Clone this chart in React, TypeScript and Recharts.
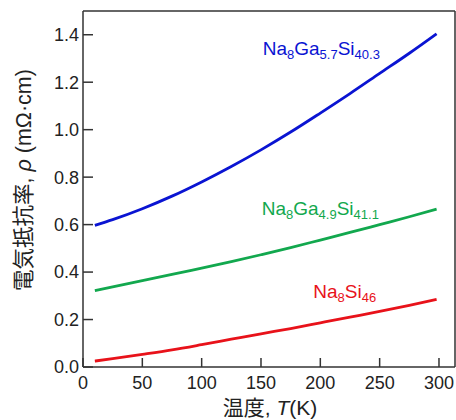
import { Line, LineChart, XAxis, YAxis } from "recharts"

const temps = [10, 25, 50, 75, 100, 125, 150, 175, 200, 225, 250, 275, 298]
const gaRich = [0.597, 0.621, 0.667, 0.72, 0.78, 0.845, 0.915, 0.99, 1.07, 1.152, 1.237, 1.322, 1.404]
const gaMid = [0.322, 0.338, 0.364, 0.39, 0.417, 0.444, 0.473, 0.503, 0.535, 0.567, 0.6, 0.633, 0.665]
const pure = [0.025, 0.035, 0.053, 0.072, 0.094, 0.117, 0.14, 0.162, 0.186, 0.21, 0.234, 0.26, 0.285]

const xTicks = [0, 50, 100, 150, 200, 250, 300]
const yTicks = [0, 0.2, 0.4, 0.6, 0.8, 1.0, 1.2, 1.4]

const data = temps.map((T, i) => ({
  T,
  gaRich: gaRich[i],
  gaMid: gaMid[i],
  pure: pure[i]
}))

const BLUE = "#0a14d2"
const GREEN = "#12a84e"
const RED = "#e8121a"
const AXIS = "#333"
const FONT = "'Liberation Sans', Arial, 'Noto Sans CJK JP', sans-serif"
const CJK = "'Liberation Sans', 'Noto Sans CJK JP', sans-serif"

const tickStyle = { fontSize: 18, fill: "#222", fontFamily: FONT }

const App = () => {
  return (
    <div style={{ position: "absolute", left: 0, top: 0, width: 456, height: 420, background: "#fff" }}>
      <LineChart
        width={456}
        height={420}
        data={data}
        margin={{ top: 10, right: 0, bottom: 0, left: 0 }}
      >
        <XAxis
          dataKey="T"
          type="number"
          domain={[0, 313.5]}
          ticks={xTicks}
          allowDataOverflow
          stroke={AXIS}
          strokeWidth={1.5}
          tickSize={-9}
          tickMargin={18}
          height={53}
          tick={tickStyle}
        />
        {/* top and right axes only draw the frame with inward ticks */}
        <XAxis
          xAxisId="top"
          dataKey="T"
          orientation="top"
          type="number"
          domain={[0, 313.5]}
          ticks={xTicks}
          allowDataOverflow
          stroke={AXIS}
          strokeWidth={1.5}
          tickSize={-9}
          height={1}
          tick={false}
        />
        <YAxis
          type="number"
          domain={[0, 1.5]}
          ticks={yTicks}
          allowDataOverflow
          stroke={AXIS}
          strokeWidth={1.5}
          tickSize={-10}
          tickMargin={14}
          width={83}
          tick={tickStyle}
          tickFormatter={(v: number) => v.toFixed(1)}
        />
        <YAxis
          yAxisId="right"
          orientation="right"
          type="number"
          domain={[0, 1.5]}
          ticks={yTicks}
          allowDataOverflow
          stroke={AXIS}
          strokeWidth={1.5}
          tickSize={-10}
          width={1}
          tick={false}
        />
        <Line type="monotone" dataKey="gaRich" stroke={BLUE} strokeWidth={2.8} dot={false} isAnimationActive={false} />
        <Line type="monotone" dataKey="gaMid" stroke={GREEN} strokeWidth={2.8} dot={false} isAnimationActive={false} />
        <Line type="monotone" dataKey="pure" stroke={RED} strokeWidth={2.8} dot={false} isAnimationActive={false} />
        <Line
          xAxisId="top"
          yAxisId="right"
          type="monotone"
          dataKey="pure"
          stroke="none"
          dot={false}
          activeDot={false}
          legendType="none"
          isAnimationActive={false}
        />
      </LineChart>
      <svg
        width={456}
        height={420}
        style={{ position: "absolute", left: 0, top: 0, pointerEvents: "none" }}
      >
        <text x={262.7} y={55} fill={BLUE} fontFamily={FONT} fontSize={19}>
          <tspan>Na</tspan>
          <tspan fontSize={13} dy={4}>8</tspan>
          <tspan dy={-4}>Ga</tspan>
          <tspan fontSize={13} dy={4}>5.7</tspan>
          <tspan dy={-4}>Si</tspan>
          <tspan fontSize={13} dy={4}>40.3</tspan>
        </text>
        <text x={261.7} y={215} fill={GREEN} fontFamily={FONT} fontSize={19}>
          <tspan>Na</tspan>
          <tspan fontSize={13} dy={4}>8</tspan>
          <tspan dy={-4}>Ga</tspan>
          <tspan fontSize={13} dy={4}>4.9</tspan>
          <tspan dy={-4}>Si</tspan>
          <tspan fontSize={13} dy={4}>41.1</tspan>
        </text>
        <text x={313.3} y={298.3} fill={RED} fontFamily={FONT} fontSize={19}>
          <tspan>Na</tspan>
          <tspan fontSize={13} dy={4}>8</tspan>
          <tspan dy={-4}>Si</tspan>
          <tspan fontSize={13} dy={4}>46</tspan>
        </text>
        <text
          x={23.5}
          y={180}
          textAnchor="middle"
          dominantBaseline="central"
          transform="rotate(-90, 23.5, 180)"
          fill="#222"
          fontFamily={CJK}
          fontSize={21.5}
        >
          <tspan>電気抵抗率, </tspan>
          <tspan fontStyle="italic">ρ</tspan>
          <tspan> (mΩ·cm)</tspan>
        </text>
        <text x={270} y={415} textAnchor="middle" fill="#222" fontFamily={CJK} fontSize={21}>
          <tspan>温度, </tspan>
          <tspan fontStyle="italic">T</tspan>
          <tspan>(K)</tspan>
        </text>
      </svg>
    </div>
  )
}

export default App
